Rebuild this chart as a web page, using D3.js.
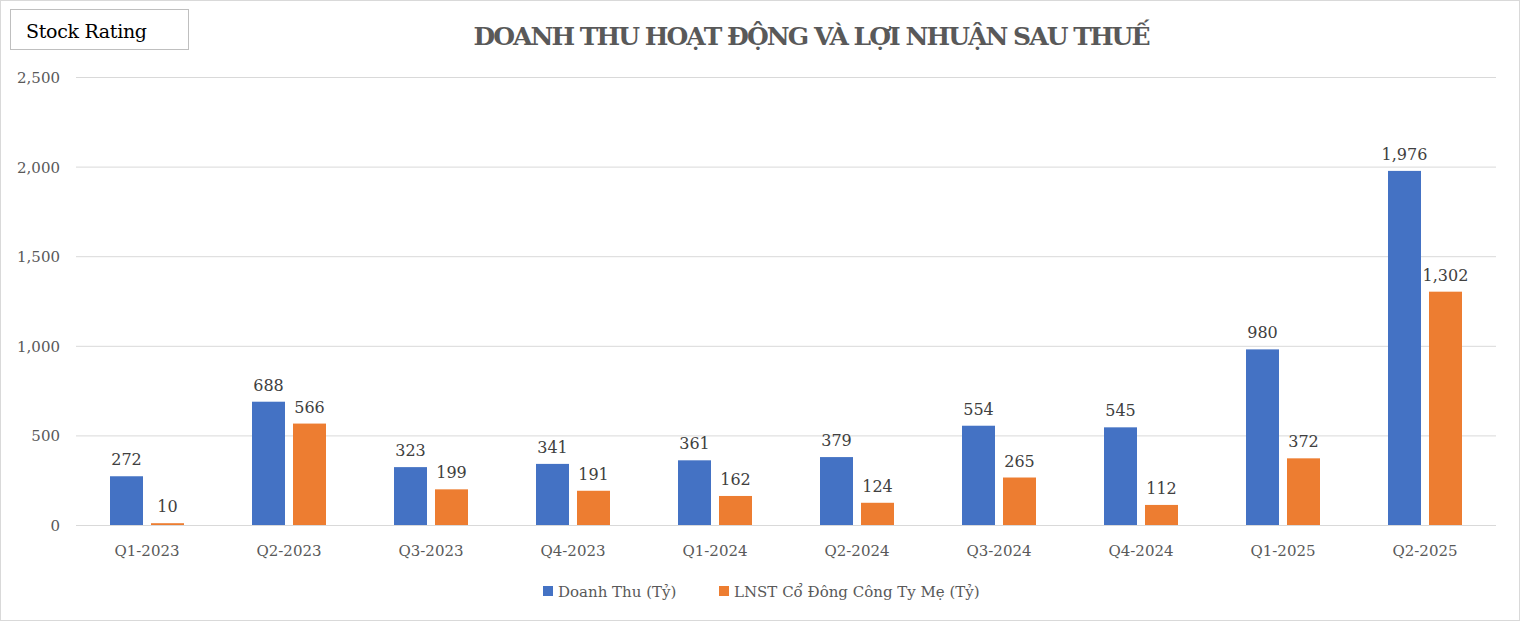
<!DOCTYPE html>
<html><head><meta charset="utf-8">
<script src="https://cdn.jsdelivr.net/npm/d3@7"></script>
<style>body{margin:0;background:#fff}text{font-family:"DejaVu Serif",serif}</style>
</head><body><svg id="c" width="1520" height="621"></svg>
<script>
const categories=["Q1-2023","Q2-2023","Q3-2023","Q4-2023","Q1-2024","Q2-2024","Q3-2024","Q4-2024","Q1-2025","Q2-2025"];
const revenue=[272,688,323,341,361,379,554,545,980,1976];
const profit=[10,566,199,191,162,124,265,112,372,1302];
const yTicks=[0,500,1000,1500,2000,2500];
const seriesNames=["Doanh Thu (Tỷ)","LNST Cổ Đông Công Ty Mẹ (Tỷ)"];
const colors=["#4472c4","#ed7d31"];
const svg=d3.select("#c");
svg.append("rect").attr("x",0.5).attr("y",0.5).attr("width",1519).attr("height",620).attr("fill","#fff").attr("stroke","#d9d9d9");
svg.append("rect").attr("x",10.5).attr("y",9.5).attr("width",178).attr("height",40).attr("fill","#fff").attr("stroke","#bfbfbf");
svg.append("text").attr("x",26).attr("y",38).attr("font-size",19).attr("fill","#000").attr("textLength",121).text("Stock Rating");
svg.append("text").attr("x",812).attr("y",45).attr("text-anchor","middle").attr("font-size",25).attr("font-weight","bold").attr("fill","#595959").attr("textLength",677).text("DOANH THU HOẠT ĐỘNG VÀ LỢI NHUẬN SAU THUẾ");
const x=d3.scaleBand().domain(categories).range([76,1496]);
const y=d3.scaleLinear().domain([0,2500]).range([525,77]);
const g=svg.append("g");
yTicks.forEach(t=>{
 g.append("line").attr("x1",76).attr("x2",1496).attr("y1",y(t)+0.5).attr("y2",y(t)+0.5).attr("stroke","#d9d9d9");
 g.append("text").attr("x",60).attr("y",y(t)+6).attr("text-anchor","end").attr("font-size",15).attr("fill","#595959").text(d3.format(",")(t));
});
const bw=33,gap=8;
[revenue,profit].forEach((arr,si)=>{
 arr.forEach((v,i)=>{
  const cx=x(categories[i])+x.bandwidth()/2;
  const bx=si===0?cx-gap/2-bw:cx+gap/2;
  g.append("rect").attr("x",bx).attr("y",y(v)).attr("width",bw).attr("height",y(0)-y(v)).attr("fill",colors[si]);
  g.append("text").attr("x",bx+bw/2).attr("y",y(v)-11).attr("text-anchor","middle").attr("font-size",16).attr("fill","#404040").text(d3.format(",")(v));
 });
});
categories.forEach(c=>{
 g.append("text").attr("x",x(c)+x.bandwidth()/2).attr("y",556).attr("text-anchor","middle").attr("font-size",15).attr("fill","#595959").text(c);
});
const lg=[[543,"Doanh Thu (Tỷ)"],[719,"LNST Cổ Đông Công Ty Mẹ (Tỷ)"]];
lg.forEach((l,i)=>{
 svg.append("rect").attr("x",l[0]).attr("y",586).attr("width",10).attr("height",10).attr("fill",colors[i]);
 svg.append("text").attr("x",l[0]+15).attr("y",597).attr("font-size",15).attr("fill","#595959").text(seriesNames[i]);
});
</script></body></html>
